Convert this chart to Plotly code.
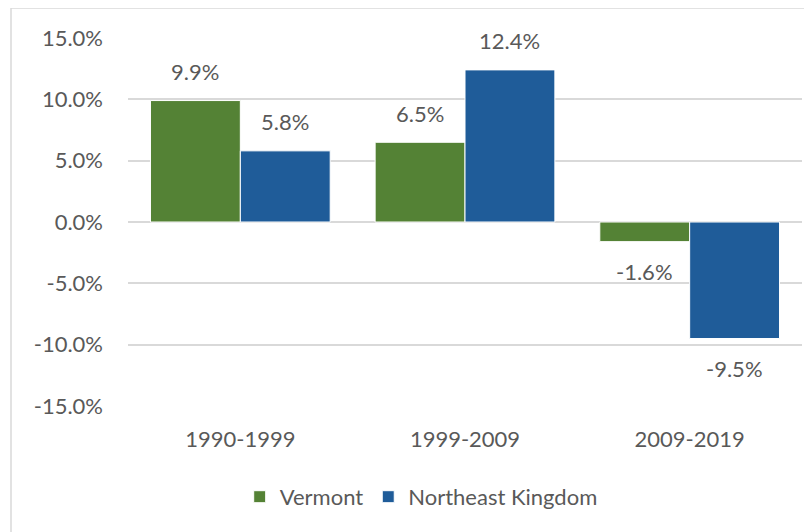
import plotly.graph_objects as go

categories = ["1990-1999", "1999-2009", "2009-2019"]
vermont = [9.9, 6.5, -1.6]
nek = [5.8, 12.4, -9.5]
series_names = ["Vermont", "Northeast Kingdom"]
colors = ["#548235", "#1F5C99"]
tick_vals = [-15, -10, -5, 0, 5, 10, 15]
tick_text = [f"{v:.1f}%" for v in tick_vals]

FONT = "Lato, Open Sans, sans-serif"
TXT = "#595959"
FS = 22

fig = go.Figure()
for name, vals, col in zip(series_names, [vermont, nek], colors):
    fig.add_trace(go.Bar(
        x=categories, y=vals, name=name,
        marker=dict(color=col, line=dict(color="white", width=1)),
    ))

offsets = [-0.2, 0.2]
annotations = []
for k, vals in enumerate([vermont, nek]):
    for i, v in enumerate(vals):
        annotations.append(dict(
            x=i + offsets[k], y=v, xref="x", yref="y",
            text=f"{v:.1f}%", showarrow=False,
            yshift=29 if v >= 0 else -30,
            font=dict(family=FONT, size=FS, color=TXT),
        ))

fig.update_layout(
    width=812, height=532,
    margin=dict(l=120, r=18, t=30, b=134),
    paper_bgcolor="white", plot_bgcolor="white",
    barmode="group", bargap=0.2, bargroupgap=0,
    font=dict(family=FONT, size=FS, color=TXT),
    xaxis=dict(showline=False, ticks="", ticklabelstandoff=18,
               tickfont=dict(size=FS, color=TXT)),
    yaxis=dict(range=[-15, 15], tickvals=tick_vals, ticktext=tick_text,
               showgrid=True, gridcolor="#D9D9D9", gridwidth=1.5,
               zeroline=False, ticks="", ticklabelstandoff=24,
               tickfont=dict(size=FS, color=TXT)),
    legend=dict(orientation="h", x=0.435, xanchor="center", y=-0.247, yanchor="middle",
                font=dict(size=FS, color=TXT), itemwidth=30, tracegroupgap=0),
    annotations=annotations,
    shapes=[dict(type="rect", xref="paper", yref="paper",
                 x0=-0.1736, x1=1.2, y0=-0.6, y1=1.0815,
                 line=dict(color="#D9D9D9", width=1.5), layer="below")],
)

fig.write_html("out.html")
